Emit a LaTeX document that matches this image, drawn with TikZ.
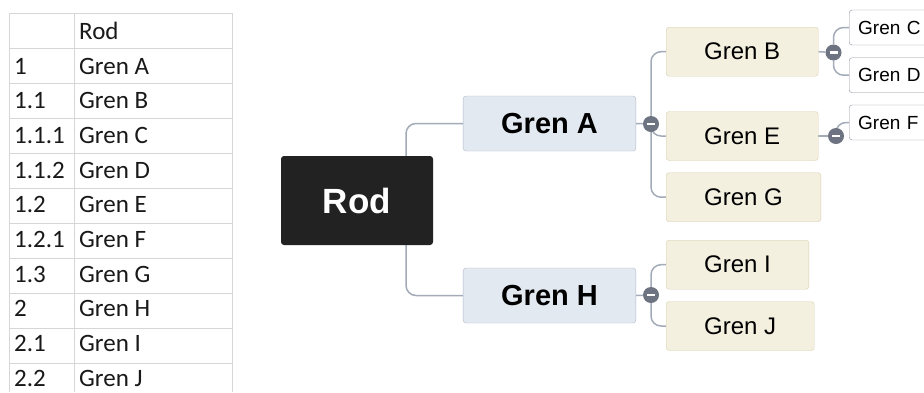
\documentclass[tikz,border=0pt]{standalone}
\usepackage{fontspec}
\setmainfont{Liberation Sans}
\newfontfamily\calibri{Carlito}
\pgfdeclarelayer{background}
\pgfsetlayers{background,main}
\definecolor{rootfill}{HTML}{222222}
\definecolor{mainfill}{HTML}{E3E9F1}
\definecolor{maindraw}{HTML}{AEBBCB}
\definecolor{subfill}{HTML}{F4F0E0}
\definecolor{subdraw}{HTML}{D9CFAF}
\definecolor{leafdraw}{HTML}{8E939B}
\definecolor{linkgray}{HTML}{A4ABB8}
\definecolor{knobfill}{HTML}{6D7380}
\definecolor{gridgray}{HTML}{D6D6D6}

\begin{document}
\begin{tikzpicture}[x=1pt,y=-1pt,
    root/.style={fill=rootfill,rounded corners=3pt,text=white,
                 font=\fontsize{35}{35}\selectfont\bfseries,
                 minimum width=152pt,minimum height=89pt},
    main/.style={draw=maindraw,fill=mainfill,rounded corners=3pt,
                 font=\fontsize{29}{29}\selectfont\bfseries,
                 inner xsep=38pt,minimum height=55pt},
    sub/.style={draw=subdraw,fill=subfill,rounded corners=3pt,anchor=west,
                font=\fontsize{24}{24}\selectfont,inner xsep=38pt,minimum height=49pt},
    leaf/.style={draw=leafdraw,fill=white,rounded corners=3pt,anchor=west,
                 font=\fontsize{19}{19}\selectfont,inner xsep=9pt,
                 text width=80pt,align=left,minimum height=35pt},
    knob/.style={circle,fill=knobfill,minimum size=16pt,inner sep=0pt,
                 path picture={\draw[white,line width=2.2pt]
                   ([xshift=-4pt]path picture bounding box.center) --
                   ([xshift=4pt]path picture bounding box.center);}},
    link/.style={draw=linkgray,line width=1.5pt,rounded corners=10pt},
    grid/.style={draw=gridgray,line width=1pt},
    cell/.style={anchor=base west,inner sep=0pt,text=black!90,
                 font=\calibri\fontsize{25}{25}\selectfont}
  ]
    \clip (0,0) rectangle (924,392);

    % outline table
    \foreach \i in {0,...,10}
      \draw[grid] (9,{13.3+35*\i}) -- (232,{13.3+35*\i});
    \foreach \x in {9,74,232}
      \draw[grid] (\x,13.3) -- (\x,392);
    \foreach \i/\num/\name in {0//Rod,1/1/Gren A,2/1.1/Gren B,3/1.1.1/Gren C,
        4/1.1.2/Gren D,5/1.2/Gren E,6/1.2.1/Gren F,7/1.3/Gren G,
        8/2/Gren H,9/2.1/Gren I,10/2.2/Gren J} {
      \node[cell] (num\i) at (14,{39.5+34.65*\i}) {\num};
      \node[cell] (name\i) at (79,{39.5+34.65*\i}) {\name};
    }

    % mind map
    \node[root] (rod) at (357,200.5) {Rod};
    \node[main] (grenA) at (549.5,123.5) {Gren A};
    \node[main] (grenH) at (549.5,295.5) {Gren H};
    \node[sub] (grenB) at (666,51.7) {Gren B};
    \node[sub] (grenE) at (666,136) {Gren E};
    \node[sub] (grenG) at (666,197.2) {Gren G};
    \node[sub] (grenI) at (666,264.7) {Gren I};
    \node[sub] (grenJ) at (666,326) {Gren J};
    \node[leaf] (grenC) at (849,27.5) {Gren C};
    \node[leaf] (grenD) at (849,75.2) {Gren D};
    \node[leaf] (grenF) at (849,122.5) {Gren F};
    \node[knob] (kA) at (651,124) {};
    \node[knob] (kB) at (833.5,52.5) {};
    \node[knob] (kE) at (836,136) {};
    \node[knob] (kH) at (651,295) {};
    \coordinate (rj) at (406,200);

    \begin{pgfonlayer}{background}
      \fill[white] (0,0) rectangle (924,392);
      \draw[link] (rj |- rod.north) |- (grenA.west);
      \draw[link] (rj |- rod.south) |- (grenH.west);
      \draw[link] (grenA.east) -- (kA);
      \draw[link] (kA) |- (grenB.west);
      \draw[link] (kA) |- (grenE.west);
      \draw[link] (kA) |- (grenG.west);
      \draw[link] (grenB.east) -- (kB);
      \draw[link] (kB) |- (grenC.west);
      \draw[link] (kB) |- (grenD.west);
      \draw[link] (grenE.east) -- (kE);
      \draw[link] (kE) |- (grenF.west);
      \draw[link] (grenH.east) -- (kH);
      \draw[link] (kH) |- (grenI.west);
      \draw[link] (kH) |- (grenJ.west);
    \end{pgfonlayer}
  \end{tikzpicture}
\end{document}
